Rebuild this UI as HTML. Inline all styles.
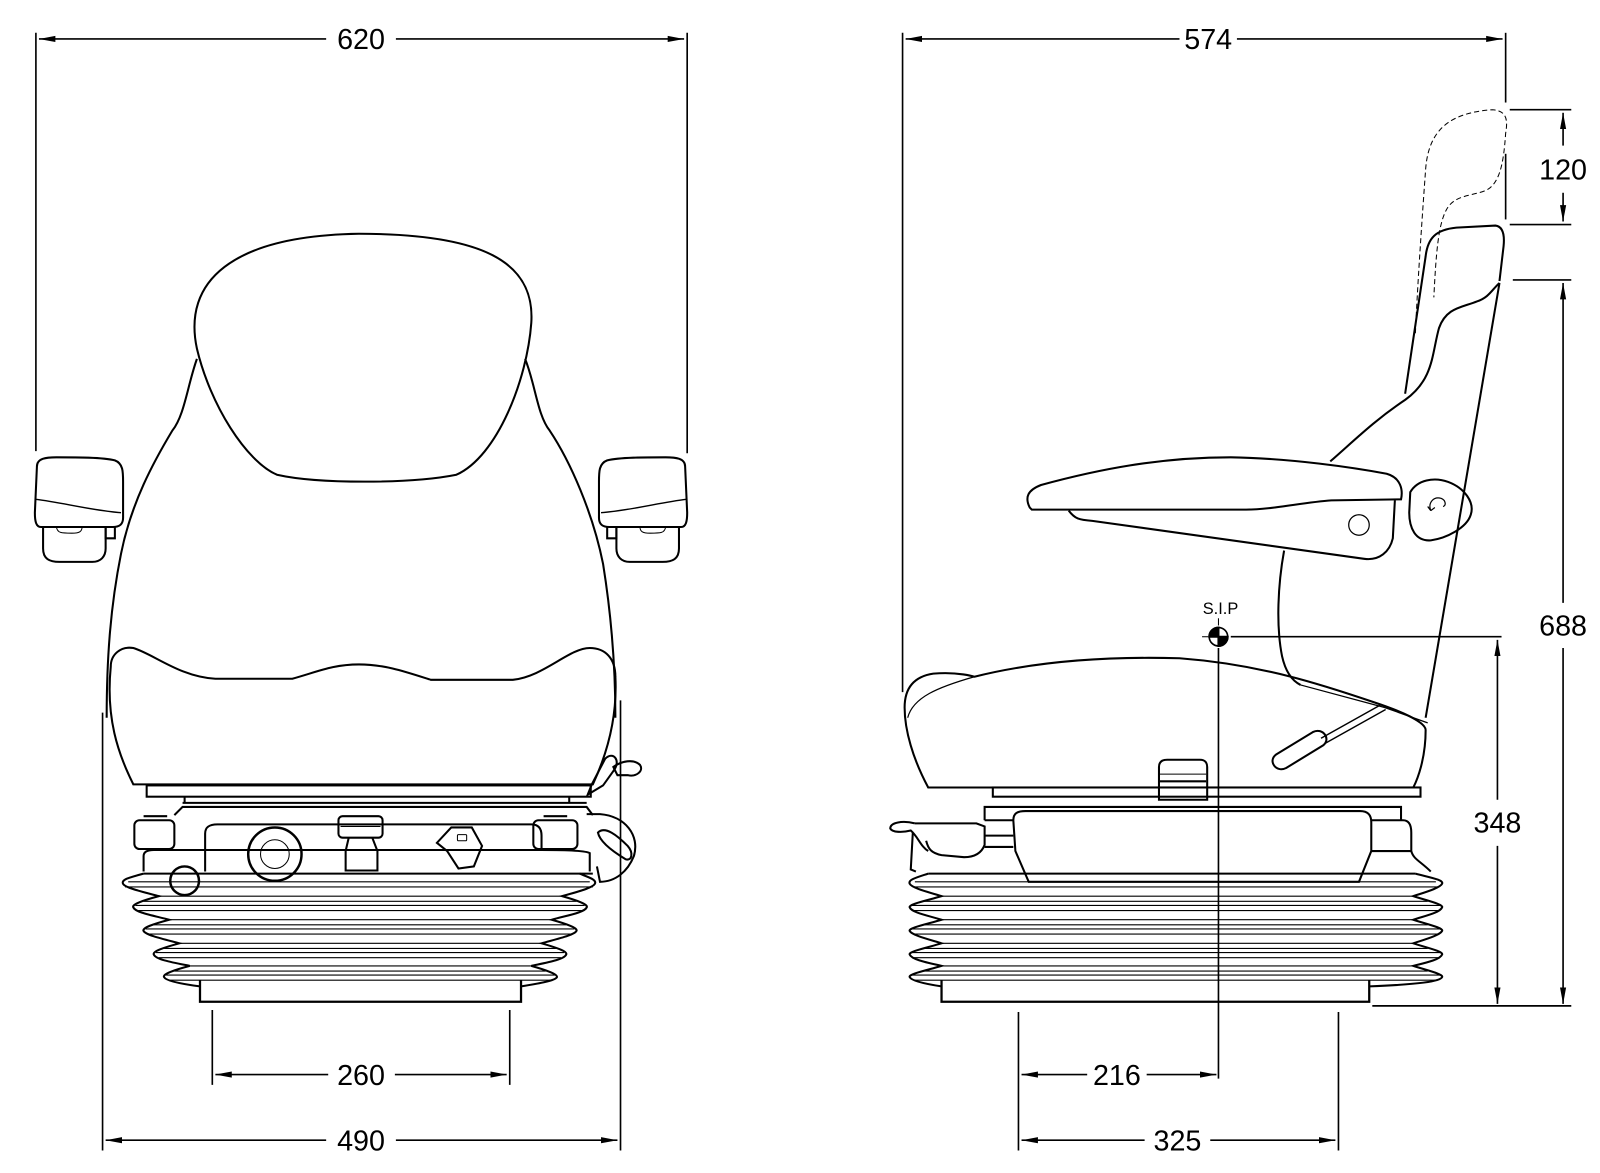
<!DOCTYPE html>
<html><head><meta charset="utf-8"><style>
html,body{margin:0;padding:0;background:#fff;}
svg{display:block;}
text{font-family:"Liberation Sans",sans-serif;fill:#000;}
</style></head><body>
<svg width="1600" height="1173" viewBox="0 0 1560 1144" preserveAspectRatio="none" xmlns="http://www.w3.org/2000/svg">
<defs>
<marker id="a" viewBox="0 0 16 8" refX="16" refY="4" markerWidth="16" markerHeight="8" markerUnits="userSpaceOnUse" orient="auto-start-reverse"><path d="M0,1 L16,4 L0,7 Z" fill="#000"/></marker>
</defs>
<g fill="none" stroke="#000" stroke-width="2">
<!-- ===== dimension lines front ===== -->
<g stroke-width="1.6">
<line x1="35" y1="32" x2="35" y2="440"/>
<line x1="670" y1="32" x2="670" y2="442"/>
<line x1="38" y1="38" x2="318" y2="38" marker-start="url(#a)"/>
<line x1="386" y1="38" x2="667" y2="38" marker-end="url(#a)"/>
<line x1="100" y1="695" x2="100" y2="1122"/>
<line x1="605" y1="683" x2="605" y2="1122"/>
<line x1="103" y1="1112" x2="318" y2="1112" marker-start="url(#a)"/>
<line x1="386" y1="1112" x2="602" y2="1112" marker-end="url(#a)"/>
<line x1="207" y1="985" x2="207" y2="1058"/>
<line x1="497" y1="985" x2="497" y2="1058"/>
<line x1="210" y1="1048" x2="320" y2="1048" marker-start="url(#a)"/>
<line x1="385" y1="1048" x2="494" y2="1048" marker-end="url(#a)"/>
</g>

<!-- ===== front seat ===== -->
<path d="M192,350 C183,375 180,405 168,420 C150,450 128,490 118,540 C108,590 104,640 104,700"/>
<path d="M512,350 C522,375 524,405 536,420 C556,450 578,500 588,550 C596,600 600,650 600,700"/>
<path d="M270,463 C240,450 205,395 192,340 C178,275 225,230 350,228 C470,228 522,255 518,315 C514,370 485,445 445,463 C400,472 310,472 270,463 Z"/>
<path d="M108,650 C108,638 118,630 130,632 C150,638 175,660 210,662 L285,662 C310,655 325,648 350,648 C375,648 395,655 420,663 L500,663 C530,660 555,632 575,632 C590,632 600,642 600,660 C602,700 592,735 578,765 L130,765 C115,735 103,700 108,650 Z"/>
<rect x="143" y="766" width="433" height="11"/>
<path d="M36,455 C36,447 45,446 55,446 C75,446 100,446 112,449 C120,452 120,460 120,470 L120,505 C120,512 116,514 110,514 L40,514 C35,514 34,508 34,500 Z"/>
<path d="M35,487 C60,490 90,498 118,500" stroke-width="1.4"/>
<path d="M42,514 L42,535 C42,545 48,548 58,548 L90,548 C98,548 103,543 103,535 L103,514"/>
<path d="M55,514 C56,520 60,520 70,520 C78,520 80,518 80,514" stroke-width="1"/>
<path d="M103,514 L103,525 L112,525 L112,514"/>
<path d="M668,455 C668,447 659,446 649,446 C629,446 604,446 592,449 C584,452 584,460 584,470 L584,505 C584,512 588,514 594,514 L664,514 C669,514 670,508 670,500 Z"/>
<path d="M669,487 C644,490 614,498 586,500" stroke-width="1.4"/>
<path d="M662,514 L662,535 C662,545 656,548 646,548 L614,548 C606,548 601,543 601,535 L601,514"/>
<path d="M649,514 C648,520 644,520 634,520 C626,520 624,518 624,514" stroke-width="1"/>
<path d="M601,514 L601,525 L592,525 L592,514"/>
<path d="M590,740 C598,732 606,742 598,752 L588,766 L573,775 L577,765 Z"/>
<path d="M598,748 C606,742 618,740 624,746 C628,752 620,758 612,756 L602,756 Z"/>
<path d="M170,795 L178,787 L572,787 L578,795"/>
<line x1="178" y1="783" x2="572" y2="783"/>
<line x1="180" y1="777" x2="180" y2="783"/>
<line x1="555" y1="777" x2="555" y2="783"/>
<rect x="131" y="800" width="39" height="28" rx="5"/>
<rect x="520" y="800" width="43" height="28" rx="5"/>
<path d="M140,796 L163,796 M530,796 L553,796"/>
<path d="M200,850 L200,813 C200,806 205,804 212,804 L518,804 C525,804 528,808 528,815 L528,828"/>
<path d="M140,850 L140,835 C140,830 145,829 150,829 L528,829 C540,829 570,829 575,832 L575,850"/>
<circle cx="268" cy="833" r="26" stroke-width="2.4"/>
<circle cx="268" cy="833" r="14" stroke-width="1"/>
<circle cx="180" cy="859" r="14" stroke-width="2.4"/>
<rect x="330" y="796" width="43" height="21" rx="4"/>
<line x1="332" y1="806" x2="371" y2="806" stroke-width="1"/>
<path d="M340,817 L337,830 L337,849 L368,849 L368,830 L363,817"/>
<path d="M440,807 L460,807 L470,825 L462,845 L447,847 L436,830 L426,822 Z"/>
<rect x="446" y="814" width="9" height="6" rx="1" stroke-width="1"/>
<path d="M572,794 L585,794 C610,796 624,815 618,835 C612,850 600,860 585,860 L582,845"/>
<path d="M583,812 C590,805 602,815 612,825 C618,832 616,840 610,838 C600,832 585,822 583,812 Z"/>
<path d="M140,852 L578,852"/>
<path d="M140,852 C125,856 118,858 120,862 C122,866 140,870 155,874 C140,878 128,882 130,885 C132,890 150,893 165,897 C150,901 138,905 140,908 C142,912 160,916 175,920 C160,924 148,928 150,931 C152,936 170,939 185,942 C170,946 158,950 160,953 C162,957 180,960 195,962"/>
<path d="M565,852 C575,856 582,858 580,862 C578,866 562,870 548,874 C562,878 574,882 572,885 C570,890 552,893 538,897 C552,901 564,905 562,908 C560,912 542,916 528,920 C542,924 554,928 552,931 C550,936 532,939 518,942 C532,946 544,950 543,953 C541,957 520,960 508,962"/>
<g stroke-width="1.1">
<line x1="125" y1="860" x2="575" y2="860"/><line x1="122" y1="865" x2="578" y2="865"/>
<line x1="155" y1="874" x2="548" y2="874"/><line x1="140" y1="879" x2="562" y2="879"/>
<line x1="132" y1="883" x2="570" y2="883"/><line x1="135" y1="888" x2="568" y2="888"/>
<line x1="165" y1="897" x2="538" y2="897"/><line x1="150" y1="902" x2="552" y2="902"/>
<line x1="142" y1="906" x2="560" y2="906"/><line x1="145" y1="911" x2="557" y2="911"/>
<line x1="175" y1="920" x2="528" y2="920"/><line x1="160" y1="925" x2="542" y2="925"/>
<line x1="152" y1="929" x2="550" y2="929"/><line x1="155" y1="934" x2="547" y2="934"/>
<line x1="185" y1="942" x2="518" y2="942"/><line x1="170" y1="947" x2="532" y2="947"/>
<line x1="162" y1="951" x2="541" y2="951"/><line x1="166" y1="956" x2="537" y2="956"/>
</g>
<path d="M195,956 L195,977 L508,977 L508,956" stroke-width="2.2"/>

<!-- ===== side dimensions ===== -->
<g stroke-width="1.6">
<line x1="880" y1="32" x2="880" y2="675"/>
<line x1="1468" y1="32" x2="1468" y2="100"/>
<line x1="1468" y1="150" x2="1468" y2="214"/>
<line x1="883" y1="38" x2="1150" y2="38" marker-start="url(#a)"/>
<line x1="1206" y1="38" x2="1465" y2="38" marker-end="url(#a)"/>
<line x1="1472" y1="107" x2="1532" y2="107"/>
<line x1="1472" y1="219" x2="1532" y2="219"/>
<line x1="1524" y1="110" x2="1524" y2="142" marker-start="url(#a)"/>
<line x1="1524" y1="188" x2="1524" y2="216" marker-end="url(#a)"/>
<line x1="1475" y1="273" x2="1532" y2="273"/>
<line x1="1524" y1="276" x2="1524" y2="588" marker-start="url(#a)"/>
<line x1="1524" y1="632" x2="1524" y2="979" marker-end="url(#a)"/>
<line x1="1460" y1="624" x2="1460" y2="780" marker-start="url(#a)"/>
<line x1="1460" y1="825" x2="1460" y2="979" marker-end="url(#a)"/>
<line x1="1338" y1="981" x2="1532" y2="981"/>
<line x1="1200" y1="621" x2="1464" y2="621"/>
<line x1="1188" y1="632" x2="1188" y2="1052"/>
<line x1="1172" y1="621" x2="1178" y2="621" stroke-width="1"/>
<line x1="1188" y1="603" x2="1188" y2="610" stroke-width="1"/>
<line x1="993" y1="987" x2="993" y2="1122"/>
<line x1="1305" y1="987" x2="1305" y2="1122"/>
<line x1="996" y1="1048" x2="1060" y2="1048" marker-start="url(#a)"/>
<line x1="1118" y1="1048" x2="1186" y2="1048" marker-end="url(#a)"/>
<line x1="996" y1="1112" x2="1116" y2="1112" marker-start="url(#a)"/>
<line x1="1180" y1="1112" x2="1302" y2="1112" marker-end="url(#a)"/>
</g>
<circle cx="1188" cy="621" r="9" stroke-width="1.6"/>
<path d="M1188,612 A9,9 0 0 0 1179,621 L1188,621 Z M1188,630 A9,9 0 0 0 1197,621 L1188,621 Z" fill="#000"/>

<!-- ===== side seat ===== -->
<path d="M1380,325 C1382,280 1386,220 1390,165 C1393,125 1415,110 1455,107 C1470,108 1470,118 1468,130 C1466,160 1462,180 1448,186 C1432,192 1418,190 1410,205 C1402,220 1400,250 1398,290" stroke-dasharray="5,3" stroke-width="1"/>
<path d="M1370,384 L1390,250 C1392,232 1400,224 1420,222 L1458,220 C1466,221 1467,230 1466,240 L1462,274"/>
<path d="M1462,276 C1455,282 1452,290 1440,294 C1425,300 1410,300 1403,320 C1396,345 1398,370 1370,390 C1340,410 1320,430 1297,450"/>
<path d="M1462,276 L1390,700"/>
<path d="M1252,537 C1246,570 1244,610 1250,640 C1254,658 1262,665 1268,668"/>
<path d="M1004,495 C999,485 1002,478 1015,473 C1070,458 1130,446 1200,446 C1260,447 1320,456 1352,462 C1366,466 1368,478 1366,487 L1298,488 C1270,490 1240,497 1215,497 L1006,497 Z"/>
<path d="M1042,498 C1048,506 1052,507 1065,508 L1330,545 C1345,547 1355,538 1358,525 L1360,488"/>
<circle cx="1325" cy="512" r="10" stroke-width="1.2"/>
<path d="M1375,480 C1382,468 1398,465 1412,470 C1428,476 1438,490 1434,502 C1430,515 1410,525 1395,527 C1380,528 1374,515 1374,500 Z"/>
<path d="M1395,498 C1392,490 1398,484 1405,486 C1410,488 1410,493 1407,494 M1395,498 L1392,494 M1395,498 L1399,495" stroke-width="1.2"/>
<path d="M905,768 C890,740 882,712 882,690 C882,672 890,660 910,657 C935,655 950,660 950,660 C1010,645 1080,640 1150,642 C1230,648 1290,668 1340,685 C1370,695 1390,705 1390,712 C1390,740 1382,760 1378,768 Z"/>
<path d="M885,700 C890,680 915,670 950,660" stroke-width="1.2"/>
<path d="M1268,668 L1350,690 L1392,705" stroke-width="1.2"/>
<path d="M1347,687 L1288,720 M1351,692 L1292,725" stroke-width="1.4"/>
<path d="M1244,736 L1280,714 C1290,709 1298,721 1290,727 L1254,749 C1244,754 1236,742 1244,736 Z"/>
<rect x="968" y="768" width="417" height="9"/>
<path d="M1130,780 L1130,748 C1130,743 1133,741 1138,741 L1170,741 C1175,741 1177,744 1177,748 L1177,780 Z"/>
<line x1="1131" y1="755" x2="1176" y2="755" stroke-width="1"/>
<line x1="1131" y1="762" x2="1176" y2="762"/>
<path d="M960,800 L960,787 L1366,787 L1366,800"/>
<path d="M988,800 C988,793 992,791 1000,791 L1326,791 C1334,791 1337,795 1337,802 L1337,830 L1325,860 L1003,860 L990,830 Z"/>
<path d="M1337,800 L1368,800 C1374,800 1376,805 1376,812 L1376,830 C1378,838 1385,840 1395,850"/>
<path d="M1337,830 L1376,830"/>
<path d="M960,815 L988,815 M960,826 L988,826 M960,800 L988,800"/>
<path d="M892,803 L952,803 L960,806 L960,824 C957,832 950,836 940,836 L918,834 C908,832 905,828 903,820"/>
<path d="M892,803 C880,800 868,802 868,808 C870,812 880,812 888,810 C895,816 898,826 905,830"/>
<path d="M890,812 L888,848 L893,850" />
<path d="M905,852 L1380,852"/>
<path d="M905,852 C893,856 885,858 887,862 C889,866 905,870 918,874 C905,878 885,882 887,885 C889,890 905,893 918,897 C905,901 885,905 887,908 C889,912 905,916 918,920 C905,924 885,928 887,931 C889,936 905,939 918,942 C905,946 885,950 887,953 C889,957 905,960 918,962"/>
<path d="M1380,852 C1395,856 1408,858 1406,862 C1404,866 1390,870 1378,874 C1390,878 1408,882 1406,885 C1404,890 1390,893 1378,897 C1390,901 1408,905 1406,908 C1404,912 1390,916 1378,920 C1390,924 1408,928 1406,931 C1404,936 1390,939 1378,942 C1390,946 1408,950 1406,953 C1404,957 1385,960 1335,962"/>
<g stroke-width="1.1">
<line x1="892" y1="860" x2="1400" y2="860"/><line x1="890" y1="865" x2="1403" y2="865"/>
<line x1="918" y1="874" x2="1378" y2="874"/><line x1="900" y1="879" x2="1392" y2="879"/>
<line x1="889" y1="883" x2="1404" y2="883"/><line x1="890" y1="888" x2="1403" y2="888"/>
<line x1="918" y1="897" x2="1378" y2="897"/><line x1="900" y1="902" x2="1392" y2="902"/>
<line x1="889" y1="906" x2="1404" y2="906"/><line x1="890" y1="911" x2="1403" y2="911"/>
<line x1="918" y1="920" x2="1378" y2="920"/><line x1="900" y1="925" x2="1392" y2="925"/>
<line x1="889" y1="929" x2="1404" y2="929"/><line x1="890" y1="934" x2="1403" y2="934"/>
<line x1="918" y1="942" x2="1378" y2="942"/><line x1="900" y1="947" x2="1392" y2="947"/>
<line x1="889" y1="951" x2="1404" y2="951"/><line x1="892" y1="956" x2="1400" y2="956"/>
</g>
<path d="M918,956 L918,977 L1335,977 L1335,956" stroke-width="2.2"/>
</g>

<g font-size="28" text-anchor="middle">
<text x="352" y="48">620</text>
<text x="352" y="1122">490</text>
<text x="352" y="1058">260</text>
<text x="1178" y="48">574</text>
<text x="1524" y="175">120</text>
<text x="1524" y="620">688</text>
<text x="1460" y="812">348</text>
<text x="1089" y="1058">216</text>
<text x="1148" y="1122">325</text>
</g>
<text x="1190" y="599" font-size="16" text-anchor="middle">S.I.P</text>
</svg>
</body></html>
